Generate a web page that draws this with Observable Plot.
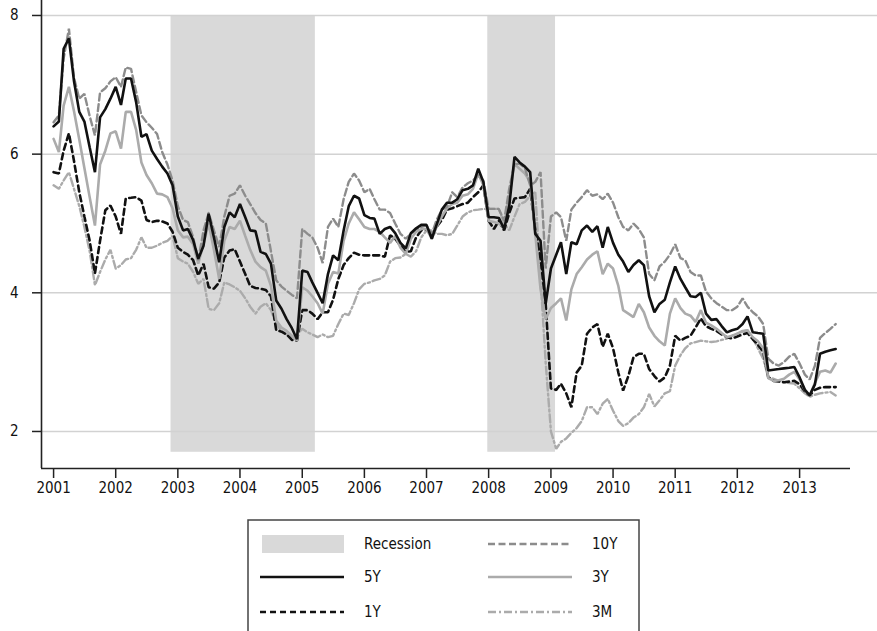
<!DOCTYPE html>
<html><head><meta charset="utf-8">
<script src="https://cdn.jsdelivr.net/npm/d3@7"></script>
<script src="https://cdn.jsdelivr.net/npm/@observablehq/plot@0.6"></script>
<style>
body{margin:0;background:#fff;font-family:"DejaVu Sans Condensed","Liberation Sans Narrow",sans-serif;}
#chart svg{display:block;}
</style></head><body><div id="chart"></div><script>
// monthly observations, first month = January 2001
const startYear = 2001;

const y10 = [
 6.46,6.56,7.38,7.81,7.10,6.80,6.87,6.55,6.27,6.89,6.95,7.05,
 7.11,6.97,7.25,7.23,6.90,6.56,6.46,6.38,6.29,6.03,5.85,5.62,
 5.25,5.05,5.02,4.80,4.47,4.90,5.15,4.90,4.66,5.10,5.40,5.43,
 5.55,5.40,5.28,5.15,5.05,5.00,4.60,4.18,4.09,4.03,3.97,3.92,
 4.92,4.85,4.80,4.65,4.43,4.95,5.07,4.95,5.35,5.60,5.72,5.62,
 5.45,5.50,5.35,5.20,5.20,5.15,5.00,4.85,4.78,4.85,4.92,4.95,
 4.97,4.85,5.05,5.20,5.24,5.45,5.38,5.52,5.58,5.62,5.70,5.62,
 5.21,5.21,5.21,5.04,5.50,5.86,5.86,5.80,5.55,5.60,5.74,4.35,
 5.10,5.16,5.09,4.75,5.20,5.30,5.38,5.48,5.40,5.42,5.35,5.43,
 5.30,5.09,4.95,4.90,5.00,4.92,4.80,4.27,4.18,4.38,4.45,4.55,
 4.70,4.50,4.47,4.30,4.25,4.25,4.02,3.92,3.85,3.80,3.75,3.75,
 3.80,3.92,3.80,3.72,3.66,3.55,3.05,2.98,2.95,3.00,3.08,3.12,
 2.98,2.82,2.75,2.95,3.35,3.42,3.48,3.55];

const y5 = [
 6.40,6.47,7.52,7.67,7.05,6.61,6.47,6.10,5.74,6.53,6.65,6.80,
 6.97,6.71,7.09,7.09,6.75,6.25,6.29,6.05,5.93,5.82,5.72,5.55,
 5.10,4.90,4.92,4.76,4.49,4.68,5.14,4.80,4.44,4.95,5.16,5.09,
 5.28,5.09,4.90,4.89,4.59,4.56,4.42,3.89,3.77,3.62,3.49,3.33,
 4.32,4.30,4.15,4.00,3.85,4.27,4.54,4.47,4.90,5.25,5.40,5.36,
 5.12,5.08,5.07,4.85,4.92,4.95,4.86,4.72,4.64,4.86,4.93,4.98,
 4.98,4.78,4.98,5.20,5.30,5.30,5.35,5.48,5.50,5.55,5.79,5.60,
 5.09,5.09,5.08,4.92,5.25,5.96,5.88,5.82,5.74,4.85,4.75,3.84,
 4.35,4.55,4.73,4.27,4.73,4.70,4.90,4.97,4.88,4.96,4.65,4.95,
 4.72,4.55,4.45,4.30,4.40,4.47,4.40,3.95,3.72,3.84,3.90,4.15,
 4.38,4.20,4.08,3.95,3.94,4.00,3.70,3.61,3.62,3.52,3.43,3.46,
 3.48,3.55,3.66,3.43,3.42,3.41,2.88,2.89,2.90,2.91,2.92,2.93,
 2.78,2.60,2.52,2.68,3.12,3.15,3.17,3.19];

const y3 = [
 6.22,6.03,6.70,6.97,6.62,6.21,5.80,5.38,4.97,5.85,6.05,6.30,
 6.33,6.08,6.61,6.61,6.35,5.88,5.70,5.58,5.43,5.42,5.38,5.22,
 4.90,4.80,4.81,4.70,4.42,4.71,5.00,4.62,4.20,4.75,4.95,4.92,
 5.04,4.82,4.62,4.45,4.37,4.32,4.10,3.60,3.50,3.45,3.38,3.31,
 4.08,4.03,3.95,3.85,3.70,4.13,4.30,4.28,4.75,5.00,5.16,5.06,
 4.95,4.92,4.92,4.88,4.80,4.72,4.82,4.65,4.56,4.78,4.88,4.92,
 4.92,4.78,4.95,5.10,5.22,5.28,5.30,5.40,5.42,5.50,5.72,5.55,
 5.04,5.02,5.00,4.95,5.40,5.86,5.79,5.72,5.60,4.85,4.05,3.62,
 3.78,3.85,3.92,3.60,4.05,4.27,4.37,4.48,4.55,4.60,4.27,4.42,
 4.35,4.10,3.75,3.70,3.65,3.84,3.72,3.50,3.38,3.30,3.24,3.70,
 3.92,3.78,3.70,3.67,3.58,3.75,3.57,3.53,3.48,3.42,3.36,3.38,
 3.41,3.45,3.46,3.36,3.30,3.20,2.77,2.73,2.74,2.76,2.82,2.86,
 2.75,2.60,2.52,2.70,2.86,2.88,2.85,2.98];

const y1 = [
 5.74,5.72,6.05,6.30,5.90,5.45,5.10,4.75,4.28,4.75,5.19,5.26,
 5.10,4.85,5.36,5.37,5.38,5.33,5.05,5.02,5.04,5.03,5.00,4.88,
 4.65,4.59,4.55,4.47,4.25,4.42,4.08,4.06,4.15,4.51,4.61,4.63,
 4.45,4.27,4.10,4.07,4.06,4.04,3.95,3.46,3.44,3.40,3.32,3.31,
 3.75,3.75,3.70,3.62,3.72,3.72,3.90,4.20,4.40,4.50,4.58,4.55,
 4.54,4.54,4.54,4.54,4.52,4.83,4.78,4.68,4.59,4.60,4.80,4.90,
 4.92,4.83,4.95,5.05,5.20,5.22,5.25,5.28,5.30,5.38,5.45,5.55,
 5.04,4.92,5.04,4.90,5.15,5.36,5.37,5.38,5.50,4.90,4.50,3.84,
 2.62,2.60,2.69,2.55,2.35,2.85,2.95,3.41,3.50,3.55,3.22,3.41,
 3.20,2.85,2.59,2.80,3.07,3.12,3.12,2.90,2.80,2.72,2.78,2.95,
 3.38,3.31,3.35,3.38,3.50,3.63,3.52,3.48,3.45,3.40,3.36,3.34,
 3.37,3.40,3.42,3.33,3.25,3.15,2.78,2.73,2.72,2.71,2.72,2.73,
 2.68,2.58,2.52,2.60,2.63,2.64,2.64,2.64];

const y3m = [
 5.55,5.50,5.62,5.74,5.50,5.25,4.95,4.60,4.11,4.30,4.48,4.62,
 4.35,4.40,4.48,4.50,4.62,4.80,4.65,4.65,4.68,4.72,4.75,4.82,
 4.50,4.45,4.42,4.30,4.13,4.20,3.77,3.75,3.85,4.15,4.12,4.08,
 4.03,3.92,3.80,3.70,3.80,3.85,3.75,3.55,3.45,3.40,3.36,3.40,
 3.48,3.43,3.40,3.36,3.40,3.36,3.38,3.55,3.70,3.68,3.85,4.05,
 4.13,4.15,4.18,4.20,4.25,4.45,4.50,4.51,4.56,4.52,4.60,4.80,
 4.90,4.90,4.85,4.85,4.83,4.85,4.97,5.10,5.16,5.19,5.20,5.21,
 5.21,5.21,5.21,5.00,4.90,5.10,5.28,5.31,5.40,5.45,4.20,3.00,
 2.00,1.75,1.85,1.90,1.98,2.05,2.15,2.35,2.35,2.25,2.40,2.47,
 2.30,2.15,2.08,2.12,2.20,2.25,2.35,2.54,2.36,2.45,2.55,2.58,
 2.95,3.10,3.20,3.27,3.29,3.31,3.30,3.29,3.30,3.32,3.34,3.38,
 3.41,3.44,3.46,3.35,3.20,3.05,2.78,2.76,2.73,2.71,2.70,2.69,
 2.62,2.55,2.50,2.53,2.55,2.56,2.57,2.52];

const recessionStarts = ["2002-11-22", "2007-12-27"];
const recessionEnds   = ["2005-03-19", "2009-01-28"];
const yTicks = [2, 4, 6, 8];
const xTickYears = [2001,2002,2003,2004,2005,2006,2007,2008,2009,2010,2011,2012,2013];

const seriesNames = ["10Y", "5Y", "3Y", "1Y", "3M"];
const seriesValues = [y10, y5, y3, y1, y3m];
const seriesStyle = {
  "3M":  {stroke: "#ababab", strokeWidth: 2.4, dash: "8,3,2,3"},
  "1Y":  {stroke: "#111111", strokeWidth: 2.6, dash: "6,4"},
  "3Y":  {stroke: "#ababab", strokeWidth: 2.6, dash: null},
  "10Y": {stroke: "#8c8c8c", strokeWidth: 2.4, dash: "7,3.5"},
  "5Y":  {stroke: "#111111", strokeWidth: 2.6, dash: null}
};

const monthDate = i => new Date(Date.UTC(startYear, i, 1));
const rows = {};
seriesNames.forEach((name, k) => {
  rows[name] = seriesValues[k].map((v, i) => ({date: monthDate(i), value: v}));
});
const recessions = recessionStarts.map((s, i) => ({start: new Date(s), end: new Date(recessionEnds[i])}));

const xDomain = [new Date("2000-10-22"), new Date("2013-10-27")];
const yDomain = [1.466, 8.216];
const gridEnd = new Date("2014-04-06");
const font = `"DejaVu Sans Condensed","Liberation Sans Narrow",sans-serif`;

const drawOrder = ["3M", "1Y", "3Y", "10Y", "5Y"];

const plot = Plot.plot({
  width: 877,
  height: 505,
  marginLeft: 41,
  marginRight: 27,
  marginTop: 0,
  marginBottom: 37,
  style: {fontFamily: font, fontSize: "15px", color: "#111", background: "#fff"},
  x: {type: "utc", domain: xDomain},
  y: {domain: yDomain},
  marks: [
    Plot.rect(recessions, {x1: "start", x2: "end", y1: 1.70, y2: 8, fill: "#d9d9d9"}),
    Plot.ruleY(yTicks, {x1: xDomain[0], x2: gridEnd, stroke: "#d2d2d2", strokeWidth: 1.5, clip: false}),
    ...drawOrder.map(name => Plot.line(rows[name], {
      x: "date", y: "value",
      stroke: seriesStyle[name].stroke,
      strokeWidth: seriesStyle[name].strokeWidth,
      strokeDasharray: seriesStyle[name].dash || undefined,
      strokeLinejoin: "miter"
    })),
    Plot.ruleX([xDomain[0]], {y1: yDomain[0], y2: yDomain[1], stroke: "#222", strokeWidth: 1.6}),
    Plot.ruleY([yDomain[0]], {stroke: "#222", strokeWidth: 1.6}),
    Plot.axisX({
      ticks: xTickYears.map(y => new Date(Date.UTC(y, 0, 1))),
      tickFormat: d3.utcFormat("%Y"),
      tickSize: 10, tickPadding: 4, stroke: "#222", strokeWidth: 1.5,
      fontSize: 15, label: null
    }),
    Plot.axisY({
      ticks: yTicks, tickFormat: d => String(d), tickSize: 9, tickPadding: 14, stroke: "#222", strokeWidth: 1.5,
      fontSize: 15, label: null
    })
  ]
});
document.getElementById("chart").appendChild(plot);

// legend below the chart
const legendItems = [
  {label: "Recession", type: "rect", col: 0, row: 0},
  {label: "10Y", type: "10Y", col: 1, row: 0},
  {label: "5Y", type: "5Y", col: 0, row: 1},
  {label: "3Y", type: "3Y", col: 1, row: 1},
  {label: "1Y", type: "1Y", col: 0, row: 2},
  {label: "3M", type: "3M", col: 1, row: 2}
];
const lg = d3.select("#chart").append("svg")
  .attr("width", 877).attr("height", 126)
  .style("font-family", font).style("font-size", "15px");
lg.append("rect").attr("x", 248).attr("y", 15).attr("width", 391).attr("height", 140)
  .attr("fill", "none").attr("stroke", "#444").attr("stroke-width", 1.5);
const colX = [262, 490];
const textX = [364, 592];
const rowY = [39, 72, 107];
legendItems.forEach(it => {
  const x0 = colX[it.col], cy = rowY[it.row];
  if (it.type === "rect") {
    lg.append("rect").attr("x", x0).attr("y", cy - 9).attr("width", 82).attr("height", 18).attr("fill", "#d9d9d9");
  } else {
    const s = seriesStyle[it.type];
    lg.append("line").attr("x1", x0 - 2).attr("x2", x0 + 82).attr("y1", cy).attr("y2", cy)
      .attr("stroke", s.stroke).attr("stroke-width", s.strokeWidth)
      .attr("stroke-dasharray", s.dash);
  }
  lg.append("text").attr("x", textX[it.col]).attr("y", cy).attr("dy", "0.35em")
    .attr("fill", "#111").text(it.label);
});
</script></body></html>
